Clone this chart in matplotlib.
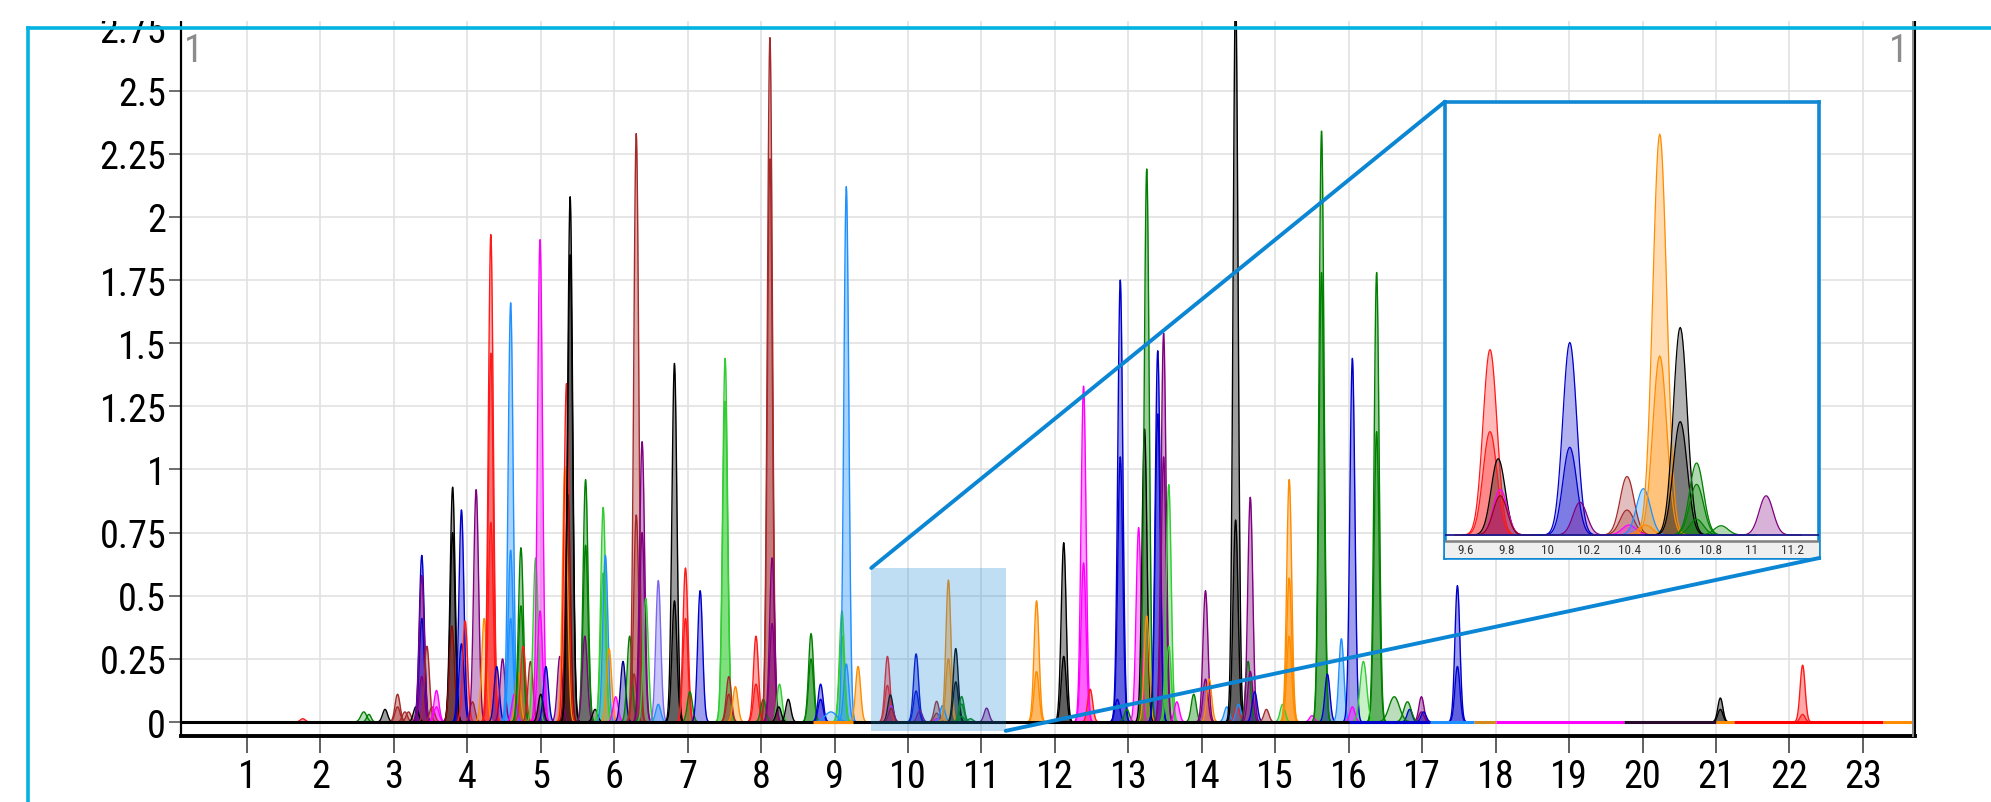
import numpy as np
import matplotlib.pyplot as plt
from matplotlib import font_manager as fm
from matplotlib.lines import Line2D
from matplotlib.patches import Rectangle, ConnectionPatch
from matplotlib.ticker import FuncFormatter

# colour names used by the traces
palette = {
    'red': '#ff1a1a', 'brown': '#a52a2a', 'darkred': '#8b0a0a',
    'blue': '#0000cd', 'navy': '#00008b', 'dodger': '#1e90ff',
    'slate': '#7b68ee', 'magenta': '#ff00ff', 'black': '#000000',
    'green': '#008000', 'lime': '#32cd32', 'orange': '#ff8c00',
    'purple': '#800080',
}

# peaks: retention time (min), height, trace colour
peak_rt = [
    1.76, 2.88, 3.05, 3.05, 3.15, 3.2, 3.3, 3.38, 3.38, 3.38, 3.38, 3.45, 3.52,
    3.58, 3.58, 3.8, 3.8, 3.79, 3.92, 3.92, 3.97, 4.07, 4.12, 4.23, 4.32, 4.32,
    4.32, 4.4, 4.48, 4.59, 4.59, 4.59, 4.64, 4.69, 4.73, 4.73, 4.76, 4.86, 4.93,
    4.99, 4.99, 5.0, 5.07, 5.26, 5.33, 5.35, 5.37, 5.4, 5.4, 5.61, 5.61, 5.6,
    5.74, 5.85, 5.85, 5.88, 5.93, 6.02, 6.12, 6.21, 6.27, 6.3, 6.3, 6.38, 6.38,
    6.43, 6.6, 6.6, 6.82, 6.82, 6.97, 6.97, 7.03, 7.17, 7.51, 7.51, 7.56, 7.56,
    7.65, 7.93, 7.93, 8.03, 8.12, 8.12, 8.15, 8.15, 8.25, 8.24, 8.37, 8.68, 8.68,
    8.81, 8.81, 9.1, 9.1, 9.16, 9.16, 9.32,
    9.72, 9.72, 9.76, 9.77, 9.77, 10.11, 10.11, 10.16, 10.39, 10.39, 10.4,
    10.47, 10.48, 10.55, 10.55, 10.65, 10.65, 10.73, 10.73, 10.73, 10.85, 11.07,
    11.75, 11.75, 12.12, 12.12, 12.39, 12.39, 12.48, 12.85, 12.89, 12.89, 12.98,
    13.14, 13.22, 13.25, 13.25, 13.4, 13.4, 13.48, 13.48, 13.55, 13.55, 13.66,
    13.89, 14.05, 14.05, 14.1, 14.34, 14.46, 14.46, 14.48, 14.5, 14.63, 14.66,
    14.66, 14.72, 14.88, 15.1, 15.19, 15.19, 15.19, 15.5, 15.63, 15.63, 15.71,
    15.9, 16.05, 16.05, 16.38, 16.38, 16.83, 16.99, 16.99, 17.02, 17.48, 17.48,
    21.06, 21.06, 22.18, 22.18,
]
peak_height = [
    0.013, 0.05, 0.11, 0.06, 0.04, 0.04, 0.06, 0.66, 0.41, 0.58, 0.18, 0.30, 0.06,
    0.125, 0.06, 0.93, 0.75, 0.38, 0.84, 0.31, 0.40, 0.08, 0.92, 0.41, 1.93, 1.46,
    0.79, 0.22, 0.25, 1.66, 0.68, 0.41, 0.11, 0.20, 0.69, 0.46, 0.30, 0.24, 0.65,
    1.91, 0.44, 0.11, 0.22, 0.26, 1.01, 1.34, 0.90, 2.08, 1.85, 0.96, 0.70, 0.34,
    0.05, 0.85, 0.59, 0.66, 0.29, 0.10, 0.24, 0.34, 0.19, 2.33, 0.82, 1.11, 0.75,
    0.49, 0.56, 0.07, 1.42, 0.48, 0.61, 0.41, 0.12, 0.52, 1.44, 1.27, 0.18, 0.11,
    0.14, 0.34, 0.15, 0.09, 2.71, 2.23, 0.65, 0.39, 0.15, 0.06, 0.09, 0.35, 0.25,
    0.15, 0.09, 0.44, 0.34, 2.12, 0.23, 0.22,
    0.26, 0.145, 0.107, 0.064, 0.055, 0.27, 0.123, 0.046, 0.082, 0.035, 0.014,
    0.065, 0.014, 0.562, 0.251, 0.291, 0.159, 0.101, 0.071, 0.022, 0.013, 0.055,
    0.48, 0.20, 0.71, 0.26, 1.33, 0.63, 0.13, 0.09, 1.75, 1.05, 0.05,
    0.77, 1.16, 0.42, 2.19, 1.47, 1.22, 1.54, 1.05, 0.94, 0.30, 0.08,
    0.11, 0.52, 0.17, 0.17, 0.06, 2.90, 0.80, 0.06, 0.07, 0.24, 0.89,
    0.20, 0.12, 0.05, 0.07, 0.96, 0.57, 0.34, 0.025, 2.34, 1.78, 0.19,
    0.33, 1.44, 0.06, 1.78, 1.15, 0.05, 0.10, 0.04, 0.04, 0.54, 0.22,
    0.095, 0.05, 0.225, 0.03,
]
peak_color = [
    'red', 'black', 'brown', 'brown', 'brown', 'brown', 'black', 'blue', 'blue', 'purple', 'purple', 'brown', 'brown',
    'magenta', 'magenta', 'black', 'black', 'darkred', 'blue', 'blue', 'red', 'brown', 'purple', 'orange', 'red', 'red',
    'red', 'blue', 'purple', 'dodger', 'dodger', 'dodger', 'magenta', 'orange', 'green', 'green', 'red', 'brown', 'lime',
    'magenta', 'magenta', 'black', 'blue', 'purple', 'orange', 'red', 'darkred', 'black', 'black', 'green', 'green', 'purple',
    'black', 'lime', 'lime', 'dodger', 'orange', 'magenta', 'navy', 'green', 'brown', 'brown', 'brown', 'purple', 'purple',
    'lime', 'slate', 'dodger', 'black', 'black', 'red', 'red', 'green', 'blue', 'lime', 'lime', 'brown', 'brown',
    'orange', 'red', 'red', 'green', 'brown', 'brown', 'purple', 'purple', 'lime', 'black', 'black', 'green', 'green',
    'blue', 'blue', 'lime', 'lime', 'dodger', 'dodger', 'orange',
    'red', 'red', 'black', 'magenta', 'darkred', 'blue', 'blue', 'purple', 'brown', 'brown', 'magenta',
    'dodger', 'orange', 'orange', 'orange', 'black', 'black', 'green', 'green', 'green', 'green', 'purple',
    'orange', 'orange', 'black', 'black', 'magenta', 'magenta', 'red', 'blue', 'blue', 'blue', 'green',
    'magenta', 'black', 'orange', 'green', 'blue', 'blue', 'purple', 'purple', 'lime', 'lime', 'magenta',
    'green', 'purple', 'purple', 'orange', 'dodger', 'black', 'black', 'red', 'dodger', 'green', 'purple',
    'purple', 'blue', 'brown', 'lime', 'orange', 'orange', 'orange', 'magenta', 'green', 'green', 'blue',
    'dodger', 'blue', 'magenta', 'green', 'green', 'blue', 'purple', 'purple', 'blue', 'blue', 'blue',
    'black', 'black', 'red', 'red',
]

# broad low humps: retention time, height, colour, width (sigma, min)
bump_rt = [2.59, 2.66, 8.95, 16.2, 16.62, 16.8]
bump_height = [0.04, 0.03, 0.04, 0.24, 0.10, 0.08]
bump_color = ['green', 'green', 'dodger', 'lime', 'green', 'green']
bump_width = [0.04, 0.03, 0.08, 0.045, 0.07, 0.05]

# coloured baseline stretches of the traces
base_start = [0.1, 8.7, 16.0, 17.1, 17.7, 18.0, 19.75, 21.0, 21.25, 23.27]
base_end = [17.1, 9.25, 17.1, 17.7, 18.0, 19.75, 21.0, 21.25, 23.27, 23.71]
base_color = ['#000000', '#ff8c00', '#0000cd', '#1e90ff', '#d4891c', '#ff00ff',
              '#2a0a2a', '#ff8c00', '#ff0000', '#ff8c00']

x_ticks = list(range(1, 24))
y_ticks = [0, 0.25, 0.5, 0.75, 1, 1.25, 1.5, 1.75, 2, 2.25, 2.5, 2.75]
inset_ticks = [9.6, 9.8, 10, 10.2, 10.4, 10.6, 10.8, 11, 11.2]
zoom_x = (9.5, 11.33)
zoom_y = (-0.035, 0.607)

SIGMA = 0.034
W, H = 1991, 803


def narrow_font():
    # the labels are set in a condensed face; take one if the system has it
    prefer = ['Liberation Sans Narrow', 'Roboto Condensed', 'Noto Sans',
              'DejaVu Sans', 'Open Sans']
    found = {}
    for f in fm.fontManager.ttflist:
        w = str(f.weight).lower()
        if f.style != 'normal' or w not in ('400', 'normal', 'regular', 'book'):
            continue
        narrow = ('narrow' in f.name.lower() or 'condensed' in f.name.lower()
                  or (str(f.stretch) in ('condensed', 'semi-condensed', '75', '87')
                      and 'condensed' in f.fname.lower()))
        if narrow and 'semi' not in f.fname.lower() and 'extra' not in f.fname.lower():
            found.setdefault(f.name, f.fname)
    for name in prefer:
        if name in found:
            return fm.FontProperties(fname=found[name])
    if found:
        return fm.FontProperties(fname=sorted(found.values())[0])
    return fm.FontProperties(family='Liberation Sans')


NARROW = narrow_font()


def draw_peaks(ax, lw, alpha):
    for rt, h, c in zip(peak_rt, peak_height, peak_color):
        x = np.linspace(rt - 5 * SIGMA, rt + 5 * SIGMA, 81)
        y = h * np.exp(-0.5 * ((x - rt) / SIGMA) ** 2)
        ax.fill_between(x, 0, y, color=palette[c], alpha=alpha, lw=0)
        ax.plot(x, y, color=palette[c], lw=lw)
    for rt, h, c, s in zip(bump_rt, bump_height, bump_color, bump_width):
        x = np.linspace(rt - 4 * s, rt + 4 * s, 81)
        y = h * np.exp(-0.5 * ((x - rt) / s) ** 2)
        ax.fill_between(x, 0, y, color=palette[c], alpha=alpha * 0.7, lw=0)
        ax.plot(x, y, color=palette[c], lw=lw)


fig = plt.figure(figsize=(W / 100, H / 100), dpi=100)

# main chromatogram
ax = fig.add_axes([180.5 / W, 1 - 737 / H, (1915 - 180.5) / W, (737 - 22) / H])
ax.set_xlim(0.095, 23.71)
ax.set_ylim(-0.0554, 2.776)
ax.set_axisbelow(True)
ax.grid(True, color='#e2e2e2', lw=1.2)
draw_peaks(ax, 1.0, 0.38)
for s, e, c in zip(base_start, base_end, base_color):
    ax.plot([s, e], [0, 0], color=c, lw=2.2, solid_capstyle='butt')

ax.set_xticks(x_ticks)
ax.set_yticks(y_ticks)
ax.yaxis.set_major_formatter(FuncFormatter(lambda v, p: '{:g}'.format(v)))
ax.tick_params(axis='x', length=12, width=1.2, color='#444444', pad=4)
ax.tick_params(axis='y', length=8.5, width=1.2, color='#555555', pad=1.8)
for lbl in ax.get_xticklabels() + ax.get_yticklabels():
    lbl.set_fontproperties(NARROW)
    lbl.set_fontsize(27.5)
ax.spines['top'].set_visible(False)
ax.spines['left'].set_linewidth(1.6)
ax.spines['bottom'].set_linewidth(2.8)
ax.spines['right'].set_linewidth(1.5)

# zoom region highlight
ax.add_patch(Rectangle((zoom_x[0], zoom_y[0]), zoom_x[1] - zoom_x[0],
                       0.61 - zoom_y[0], color='#1c8ad6', alpha=0.28,
                       lw=0, zorder=5))

ax.text(0.002, 0.985, '1', transform=ax.transAxes, ha='left', va='top',
        fontproperties=NARROW, fontsize=28, color='#8c8c8c')
ax.text(0.996, 0.985, '1', transform=ax.transAxes, ha='right', va='top',
        fontproperties=NARROW, fontsize=28, color='#8c8c8c')

# inset
l, r, t, b = 1445, 1819.3, 102.7, 559
ax_in = fig.add_axes([l / W, 1 - b / H, (r - l) / W, (b - t) / H])
ax_in.set_xlim(*zoom_x)
ax_in.set_ylim(-0.0322, 0.6073)
draw_peaks(ax_in, 0.9, 0.3)
ax_in.axhline(0, color='#1a1a8a', lw=1.3, zorder=3)
ax_in.axhspan(-0.0322, -0.0085, color='#efefef', lw=0, zorder=4)
ax_in.axhline(-0.0085, color='#808080', lw=1.8, zorder=5)
for tk in inset_ticks:
    ax_in.text(tk, -0.0205, '{:g}'.format(tk), ha='center', va='center',
               fontproperties=NARROW, fontsize=9.5, color='#333333', zorder=6)
ax_in.set_xticks([])
ax_in.set_yticks([])
for sp in ax_in.spines.values():
    sp.set_color('#1088d4')
    sp.set_linewidth(2.6)

for xa, ya, xb, yb in [(zoom_x[0], 0.61, 0, 1), (zoom_x[1], zoom_y[0], 1, 0)]:
    con = ConnectionPatch(xyA=(xa, ya), coordsA=ax.transData,
                          xyB=(xb, yb), coordsB=ax_in.transAxes,
                          color='#0a86d4', lw=2.8)
    fig.add_artist(con)

# page decorations: gray edge line, clipped top, cyan frame
fig.add_artist(Line2D([1913 / W, 1913 / W], [1 - 737 / H, 1 - 22 / H],
                      color='#8a8a8a', lw=1.4))
fig.add_artist(Rectangle((0, 1 - 22 / H), 1, 22 / H, color='white', lw=0,
                         zorder=8))
fig.add_artist(Line2D([27.7 / W, 1], [1 - 29 / H, 1 - 29 / H],
                      color='#05b3e0', lw=2.6, zorder=9))
fig.add_artist(Line2D([27.7 / W, 27.7 / W], [0, 1 - 29 / H],
                      color='#05b3e0', lw=2.6, zorder=9))

fig.savefig('out.png', dpi=100)
